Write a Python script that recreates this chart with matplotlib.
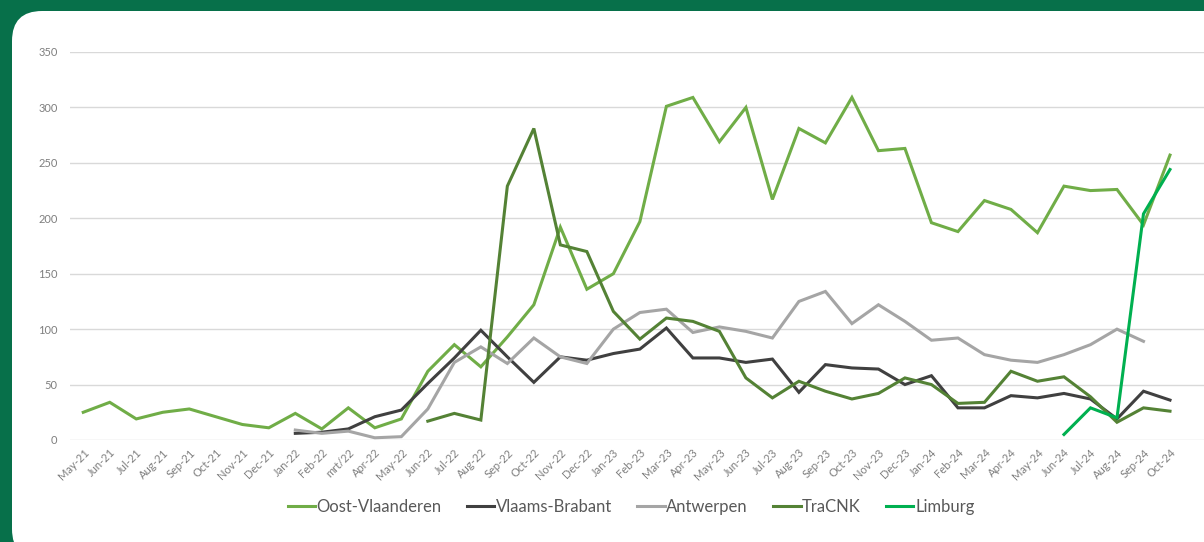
import matplotlib
matplotlib.use('Agg')
from matplotlib import pyplot as plt
from matplotlib.patches import FancyBboxPatch
import numpy as np

plt.rcParams['font.family'] = ['Lato', 'DejaVu Sans']

nan = np.nan

months = ['May-21', 'Jun-21', 'Jul-21', 'Aug-21', 'Sep-21', 'Oct-21', 'Nov-21', 'Dec-21',
          'Jan-22', 'Feb-22', 'mrt/22', 'Apr-22', 'May-22', 'Jun-22', 'Jul-22', 'Aug-22',
          'Sep-22', 'Oct-22', 'Nov-22', 'Dec-22',
          'Jan-23', 'Feb-23', 'Mar-23', 'Apr-23', 'May-23', 'Jun-23', 'Jul-23', 'Aug-23',
          'Sep-23', 'Oct-23', 'Nov-23', 'Dec-23',
          'Jan-24', 'Feb-24', 'Mar-24', 'Apr-24', 'May-24', 'Jun-24', 'Jul-24', 'Aug-24',
          'Sep-24', 'Oct-24']

oost_vlaanderen = [25, 34, 19, 25, 28, 21, 14, 11,
                   24, 10, 29, 11, 19, 62, 86, 66, 93, 122, 192, 136,
                   150, 197, 301, 309, 269, 300, 217, 281, 268, 309, 261, 263,
                   196, 188, 216, 208, 187, 229, 225, 226, 194, 257]

vlaams_brabant = [nan] * 8 + [
    6, 7, 10, 21, 27, 51, 74, 99, 75, 52, 75, 72,
    78, 82, 101, 74, 74, 70, 73, 43, 68, 65, 64, 50,
    58, 29, 29, 40, 38, 42, 37, 19, 44, 36]

antwerpen = [nan] * 8 + [
    9, 6, 8, 2, 3, 28, 70, 84, 69, 92, 75, 69,
    100, 115, 118, 97, 102, 98, 92, 125, 134, 105, 122, 107,
    90, 92, 77, 72, 70, 77, 86, 100, 89, nan]

tracnk = [nan] * 13 + [
    17, 24, 18, 229, 281, 176, 170,
    116, 91, 110, 107, 98, 56, 38, 53, 44, 37, 42, 56,
    50, 33, 34, 62, 53, 57, 39, 16, 29, 26]

limburg = [nan] * 37 + [5, 29, 20, 204, 244]

series = [
    ('Oost-Vlaanderen', oost_vlaanderen, '#70AD47'),
    ('Vlaams-Brabant', vlaams_brabant, '#404040'),
    ('Antwerpen', antwerpen, '#A5A5A5'),
    ('TraCNK', tracnk, '#548235'),
    ('Limburg', limburg, '#00B050'),
]

fig = plt.figure(figsize=(12.04, 5.42), dpi=100)
fig.patch.set_facecolor('#07704A')

# white card with rounded corners (pixel coords)
card = FancyBboxPatch((12 + 30, -17 + 30), 1300, 531 + 17 - 60,
                      boxstyle='round,pad=30', transform=None,
                      facecolor='white', edgecolor='none', zorder=-10)
fig.patches.append(card)

ax = fig.add_axes([70 / 1204, 1 - 440 / 542, 1 - 70 / 1204, (440 - 52) / 542])
ax.set_facecolor('none')

x = np.arange(len(months))
for name, vals, color in series:
    ax.plot(x, vals, color=color, lw=2.2, label=name, solid_joinstyle='miter',
            clip_on=False)

ax.set_xlim(-0.5, 41 + 34 / 26.5)
ax.set_ylim(0, 350)
ax.set_yticks(range(0, 351, 50))
ax.set_xticks(x)
ax.set_xticklabels(months, rotation=45, ha='right', va='top', rotation_mode='anchor',
                   fontsize=8, color='#7F7F7F')
ax.tick_params(axis='x', length=0, pad=5)
ax.tick_params(axis='y', length=0, pad=9, labelsize=8, labelcolor='#7F7F7F')
ax.grid(axis='y', color='#D9D9D9', lw=1)
ax.set_axisbelow(True)
for s in ax.spines.values():
    s.set_visible(False)

leg = fig.legend(loc='center', bbox_to_anchor=(631 / 1204, 1 - 507 / 542), ncol=5,
                 frameon=False, fontsize=12, handlelength=1.65, handletextpad=0.1,
                 columnspacing=1.5)
for t in leg.get_texts():
    t.set_color('#595959')

fig.savefig('out.png', dpi=100, facecolor=fig.get_facecolor())
